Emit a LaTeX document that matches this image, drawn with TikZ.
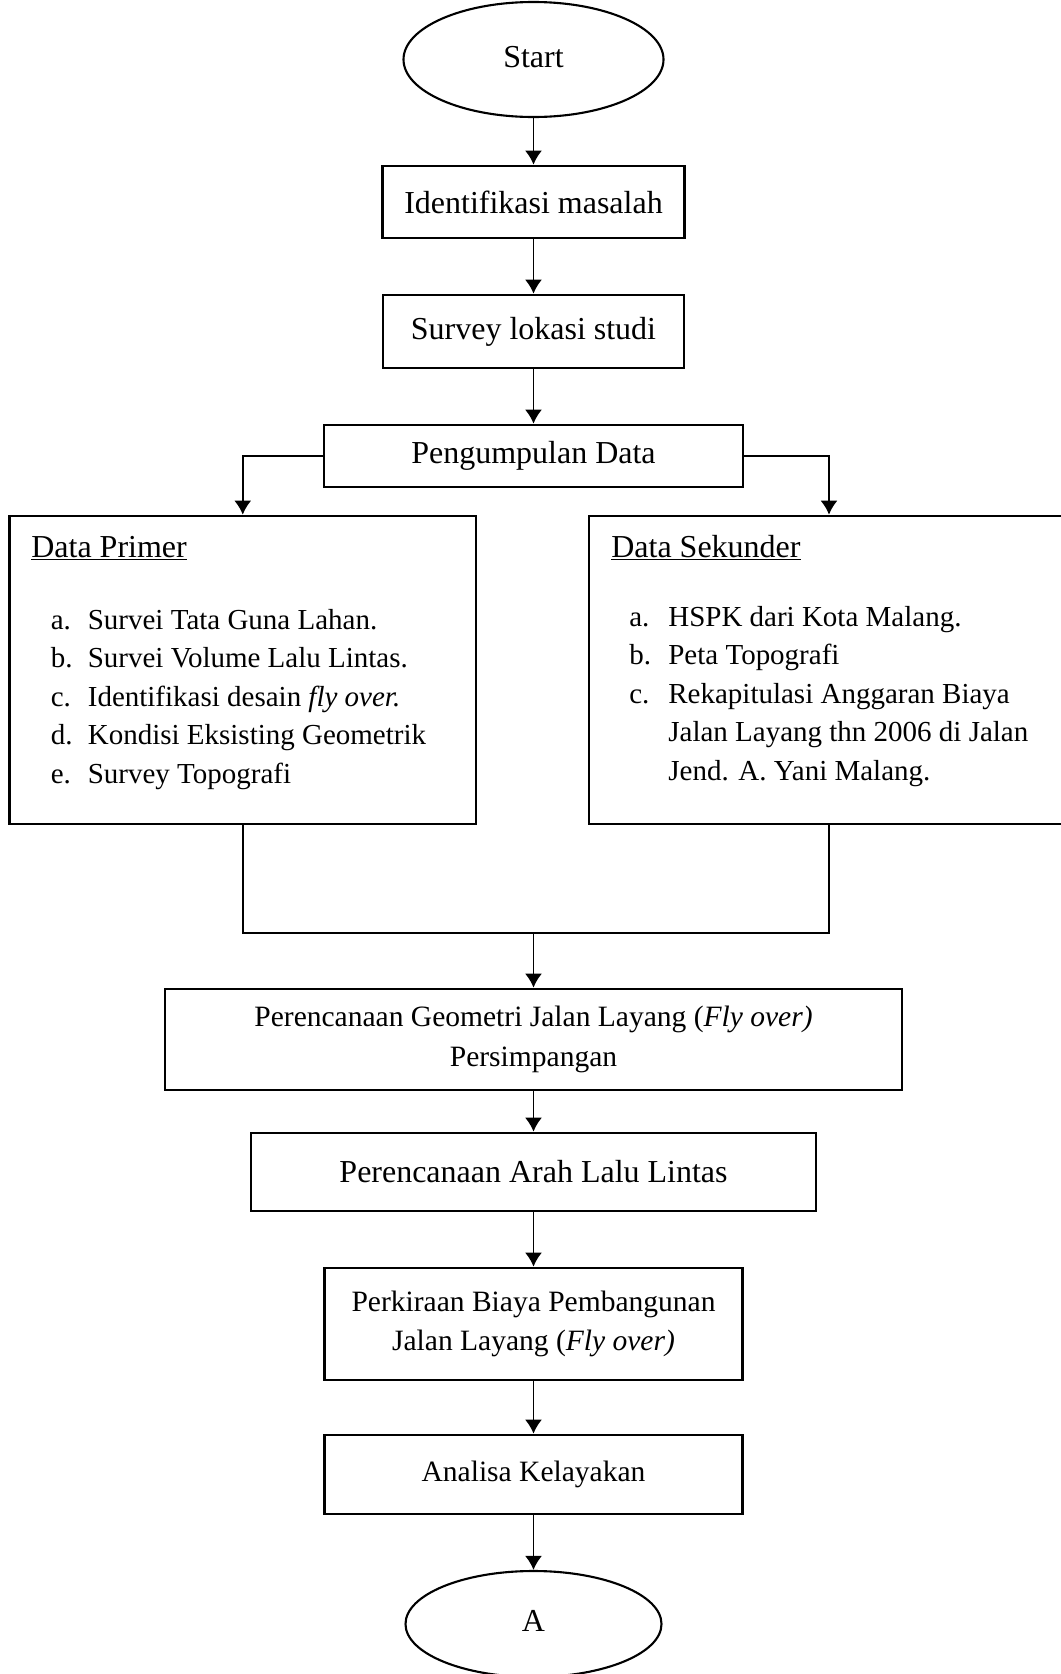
\documentclass[tikz,border=0pt]{standalone}
\usepackage{fontspec}
\setmainfont{Liberation Serif}
\usetikzlibrary{shapes.geometric,arrows.meta}

\newcommand{\besar}{\fontsize{18.2}{24}\selectfont}
\newcommand{\sedang}{\fontsize{16.8}{22.6}\selectfont}
\newcommand{\kecil}{\fontsize{16.5}{22}\selectfont}

\tikzset{
    kotak/.style={draw, line width=1.5pt, inner sep=0pt, align=center},
    oval/.style={draw, ellipse, line width=1.2pt, inner sep=0pt, font=\besar},
    panah/.style={line width=1.1pt, -{Latex[length=2.8mm, width=3.4mm]}},
    garis/.style={line width=1.1pt},
}

\begin{document}
\begin{tikzpicture}
    \useasboundingbox (0, 0) rectangle (21.22, -33.48);
    \clip (0, 0) rectangle (21.22, -33.48);
    % alur utama
    \node[oval, minimum width=5.2cm, minimum height=2.3cm] (start) at (10.67, -1.19) {\raisebox{3pt}{Start}};
    \node[kotak, font=\besar, minimum width=6.04cm, minimum height=1.44cm] (identifikasi) at (10.67, -4.04) {Identifikasi masalah};
    \node[kotak, font=\besar, minimum width=6.02cm, minimum height=1.46cm] (survey) at (10.67, -6.63) {Survey lokasi studi};
    \node[kotak, font=\besar, minimum width=8.38cm, minimum height=1.24cm] (kumpul) at (10.67, -9.12) {Pengumpulan Data};
    % data primer dan sekunder
    \node[kotak, minimum width=9.33cm, minimum height=6.16cm] (primer) at (4.855, -13.4) {};
    \node[kotak, minimum width=9.6cm, minimum height=6.16cm] (sekunder) at (16.58, -13.4) {};
    \node[anchor=base west, inner sep=0pt, font=\besar] (judulprimer) at (0.62, -11.14) {\underline{Data Primer}};
    \node[anchor=base west, inner sep=0pt, font=\besar] (judulsekunder) at (12.22, -11.14) {\underline{Data Sekunder}};
    \node[anchor=base west, inner sep=0pt] (isiprimer) at (1.01, -12.58) {\kecil
        \begin{tabular}[t]{@{}l@{}l@{}}
            \makebox[0.74cm][l]{a.} & Survei Tata Guna Lahan.\\
            \makebox[0.74cm][l]{b.} & Survei Volume Lalu Lintas.\\
            \makebox[0.74cm][l]{c.} & Identifikasi desain \textit{fly over.}\\
            \makebox[0.74cm][l]{d.} & Kondisi Eksisting Geometrik\\
            \makebox[0.74cm][l]{e.} & Survey Topografi
        \end{tabular}};
    \node[anchor=base west, inner sep=0pt] (isisekunder) at (12.58, -12.52) {\kecil
        \begin{tabular}[t]{@{}l@{}l@{}}
            \makebox[0.78cm][l]{a.} & HSPK dari Kota Malang.\\
            \makebox[0.78cm][l]{b.} & Peta Topografi\\
            \makebox[0.78cm][l]{c.} & Rekapitulasi Anggaran Biaya\\
                                    & Jalan Layang thn 2006 di Jalan\\
                                    & Jend. A. Yani Malang.
        \end{tabular}};
    \coordinate (gabung) at (10.67, -18.66);
    % perencanaan
    \node[kotak, font=\sedang, minimum width=14.74cm, minimum height=2.02cm] (geometri) at (10.67, -20.79) {Perencanaan Geometri Jalan Layang (\textit{Fly over)}\\Persimpangan};
    \node[kotak, font=\besar, minimum width=11.3cm, minimum height=1.56cm] (arah) at (10.67, -23.44) {Perencanaan Arah Lalu Lintas};
    \node[kotak, font=\sedang, minimum width=8.36cm, minimum height=2.24cm] (biaya) at (10.67, -26.48) {Perkiraan Biaya Pembangunan\\Jalan Layang (\textit{Fly over)}};
    \node[kotak, font=\sedang, minimum width=8.36cm, minimum height=1.58cm] (analisa) at (10.67, -29.49) {Analisa Kelayakan};
    \node[oval, minimum width=5.12cm, minimum height=2.12cm] (konektor) at (10.67, -32.48) {\raisebox{4pt}{A}};
    % panah
    \draw[panah] (start) -- (identifikasi);
    \draw[panah] (identifikasi) -- (survey);
    \draw[panah] (survey) -- (kumpul);
    \draw[panah] (kumpul.west) -| (primer.north);
    \draw[panah] (kumpul.east) -| (sekunder.north);
    \draw[garis] (primer.south) |- (gabung) -| (sekunder.south);
    \draw[panah] (gabung) -- (geometri);
    \draw[panah] (geometri) -- (arah);
    \draw[panah] (arah) -- (biaya);
    \draw[panah] (biaya) -- (analisa);
    \draw[panah] (analisa) -- (konektor);
\end{tikzpicture}
\end{document}
